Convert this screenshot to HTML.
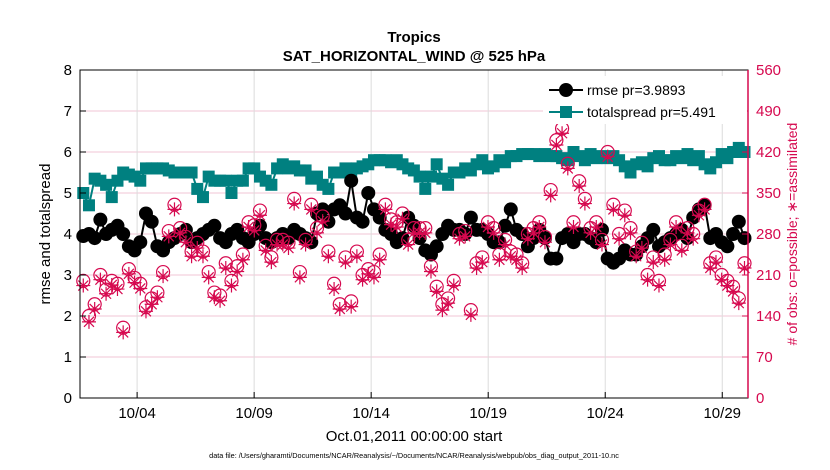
<!DOCTYPE html>
<html><head><meta charset="utf-8"><style>
body{margin:0;background:#fff;}
svg{display:block;font-family:"Liberation Sans",sans-serif;}
</style></head><body>
<svg id="chart" width="830" height="470" viewBox="0 0 830 470" xmlns="http://www.w3.org/2000/svg">
<text x="414" y="42" text-anchor="middle" font-size="15" font-weight="bold">Tropics</text>
<text x="414" y="61" text-anchor="middle" font-size="15" font-weight="bold">SAT_HORIZONTAL_WIND @ 525 hPa</text>
<g id="grid"></g>
<g id="marks"></g>
<g id="axes"></g>
<text transform="translate(50,234) rotate(-90)" text-anchor="middle" font-size="15">rmse and totalspread</text>
<text transform="translate(797,234) rotate(-90)" text-anchor="middle" font-size="14" fill="#d6094f"># of obs: o=possible; ∗=assimilated</text>
<text x="414" y="441" text-anchor="middle" font-size="15">Oct.01,2011 00:00:00 start</text>
<text x="414" y="458" text-anchor="middle" font-size="7.3">data file: /Users/gharamti/Documents/NCAR/Reanalysis/~/Documents/NCAR/Reanalysis/webpub/obs_diag_output_2011-10.nc</text>
<g>
<rect x="543" y="76" width="204" height="48" fill="#fff"/>
<line x1="549" y1="90" x2="583" y2="90" stroke="#000" stroke-width="2"/>
<circle cx="566" cy="90" r="7" fill="#000"/>
<text x="587" y="95" font-size="14">rmse pr=3.9893</text>
<line x1="549" y1="112" x2="583" y2="112" stroke="#008080" stroke-width="2"/>
<rect x="560" y="106" width="12" height="12" fill="#008080"/>
<text x="587" y="117" font-size="14">totalspread pr=5.491</text>
</g>
</svg>
<script>
const xTickLabels=["10/04","10/09","10/14","10/19","10/24","10/29"];
const xTickDays=[3,8,13,18,23,28];
const leftTicks=[0,1,2,3,4,5,6,7,8];
const rightTicks=[0,70,140,210,280,350,420,490,560];
const rmse=[3.95,4.0,3.9,4.35,4.0,4.1,4.2,4.0,3.7,
3.6,3.8,4.5,4.3,3.7,3.6,3.8,3.9,
4.0,4.1,3.8,3.9,4.0,4.1,4.2,3.9,
3.8,4.0,4.1,3.9,3.8,4.0,4.2,3.9,
3.8,3.9,4.0,3.9,4.1,4.0,3.9,3.8,
4.5,4.6,4.3,4.6,4.7,4.5,5.3,4.4,
4.3,5.0,4.6,4.4,4.1,4.0,3.8,3.9,
4.4,4.2,3.9,3.6,3.5,3.7,4.0,4.2,
4.1,4.1,4.0,4.4,4.1,4.1,4.0,3.8,
3.8,4.2,4.6,4.1,4.0,3.7,3.9,4.1,
3.9,3.4,3.4,3.9,4.0,3.8,4.0,4.0,
3.9,3.8,4.1,3.4,3.3,3.4,3.6,3.5,
3.5,3.7,3.9,4.1,3.7,3.8,3.9,4.0,
4.1,3.9,4.4,4.6,4.7,3.9,4.0,3.8,3.7,4.0,4.3,3.9];
const spread=[5.0,4.7,5.35,5.3,5.2,4.9,5.3,5.5,5.45,
5.4,5.3,5.6,5.6,5.6,5.6,5.55,5.5,
5.5,5.5,5.5,5.1,4.9,5.4,5.3,5.3,
5.3,5.0,5.3,5.3,5.6,5.6,5.4,5.3,
5.2,5.6,5.7,5.6,5.65,5.55,5.55,5.35,
5.4,5.2,5.1,5.5,5.5,5.6,5.4,5.6,
5.65,5.7,5.8,5.8,5.8,5.75,5.8,5.7,
5.6,5.55,5.4,5.1,5.4,5.7,5.35,5.2,
5.5,5.5,5.6,5.55,5.7,5.8,5.6,5.65,
5.8,5.75,5.9,5.9,5.95,5.95,5.95,5.9,
5.95,5.9,5.9,5.85,5.8,6.0,5.9,5.8,
5.95,5.85,5.9,5.85,5.9,5.8,5.65,5.5,
5.7,5.75,5.65,5.85,5.9,5.8,5.8,5.9,
5.85,5.95,5.8,5.9,5.7,5.6,5.75,5.95,5.85,6.0,6.1,6.0];
const obsPossible=[200,140,160,210,185,200,195,120,220,
205,195,155,170,180,215,285,330,
290,275,250,265,250,215,180,175,
230,200,225,245,300,295,320,260,
240,270,270,265,340,215,270,330,
290,310,250,195,160,240,165,250,
210,220,215,245,330,305,300,315,
270,290,290,290,225,190,160,170,
200,280,285,150,230,240,300,290,
245,270,250,245,230,280,290,300,
275,355,440,460,400,300,370,340,
290,300,270,420,330,280,320,290,
250,265,210,240,200,245,270,300,
260,290,280,320,330,230,240,210,200,190,170,230];
const obsAssim=[192,130,152,202,178,193,186,112,212,
197,187,148,160,172,208,276,322,
282,266,242,256,242,206,172,166,
222,192,216,236,292,286,312,252,
232,262,262,256,332,206,262,322,
282,302,242,186,152,232,156,242,
202,212,206,236,322,296,292,306,
262,282,282,282,216,182,150,162,
192,272,276,142,222,232,292,282,
236,262,242,236,222,272,282,292,
266,346,432,452,392,292,362,332,
282,292,262,412,322,272,312,282,
242,256,202,232,192,236,262,292,
252,282,272,312,322,222,232,202,192,182,162,222];
const NS="http://www.w3.org/2000/svg";
const L=80,R=748,T=70,B=398,d0=0.56,d1=29.1;
function xs(d){return L+(d-d0)/(d1-d0)*(R-L);}
function yl(v){return B-v/8*(B-T);}
function yr(v){return B-v/560*(B-T);}
function dayOf(i,n){return 0.7+i*(28.25/(n-1));}
function mk(tag,attrs,parent){const e=document.createElementNS(NS,tag);for(const k in attrs)e.setAttribute(k,attrs[k]);parent.appendChild(e);return e;}
const grid=document.getElementById('grid'),marks=document.getElementById('marks'),axes=document.getElementById('axes');
leftTicks.forEach(v=>{const g=mk('line',{x1:L,x2:R,y1:yl(v),y2:yl(v),stroke:'#f2c6d6','stroke-width':1},grid);


const t=mk('text',{x:L-8,y:yl(v)+5,'text-anchor':'end','font-size':15},axes);t.textContent=v;


mk('line',{x1:L,x2:L+6,y1:yl(v),y2:yl(v),stroke:'#000'},axes);});
rightTicks.forEach(v=>{const t=mk('text',{x:R+8,y:yr(v)+5,'font-size':15,fill:'#d6094f'},axes);t.textContent=v;


mk('line',{x1:R-6,x2:R,y1:yr(v),y2:yr(v),stroke:'#d6094f'},axes);});
xTickDays.forEach((d,i)=>{const g=mk('line',{x1:xs(d),x2:xs(d),y1:T,y2:B,stroke:'#dcdcdc'},grid);


mk('line',{x1:xs(d),x2:xs(d),y1:B,y2:B-6,stroke:'#000'},axes);
const t=mk('text',{x:xs(d),y:B+20,'text-anchor':'middle','font-size':15},axes);t.textContent=xTickLabels[i];

});
mk('rect',{x:L,y:T,width:R-L,height:B-T,fill:'none',stroke:'#000'},axes);
mk('line',{x1:R,x2:R,y1:T,y2:B,stroke:'#d6094f','stroke-width':1.5},axes);
let n=spread.length;
let p=spread.map((v,i)=>xs(dayOf(i,n))+','+yl(v)).join(' ');
const sl=mk('polyline',{points:p,fill:'none',stroke:'#008080','stroke-width':2},marks);


spread.forEach((v,i)=>{const r=mk('rect',{x:xs(dayOf(i,n))-6,y:yl(v)-6,width:12,height:12,fill:'#008080'},marks);

});
n=rmse.length;
p=rmse.map((v,i)=>xs(dayOf(i,n))+','+yl(v)).join(' ');
const rl=mk('polyline',{points:p,fill:'none',stroke:'#000','stroke-width':2},marks);


rmse.forEach((v,i)=>{const c=mk('circle',{cx:xs(dayOf(i,n)),cy:yl(v),r:7,fill:'#000'},marks);

});
n=obsPossible.length;
obsPossible.forEach((v,i)=>{const c=mk('circle',{cx:xs(dayOf(i,n)),cy:yr(v),r:6.5,fill:'none',stroke:'#d6094f','stroke-width':1.2},marks);

});
n=obsAssim.length;
obsAssim.forEach((v,i)=>{const x=xs(dayOf(i,n)),y=yr(v),s=7;
const g=mk('path',{d:`M${x-s},${y}H${x+s}M${x},${y-s}V${y+s}M${x-5},${y-5}L${x+5},${y+5}M${x-5},${y+5}L${x+5},${y-5}`,stroke:'#d6094f','stroke-width':1.2,fill:'none'},marks);

});
</script>
</body></html>
